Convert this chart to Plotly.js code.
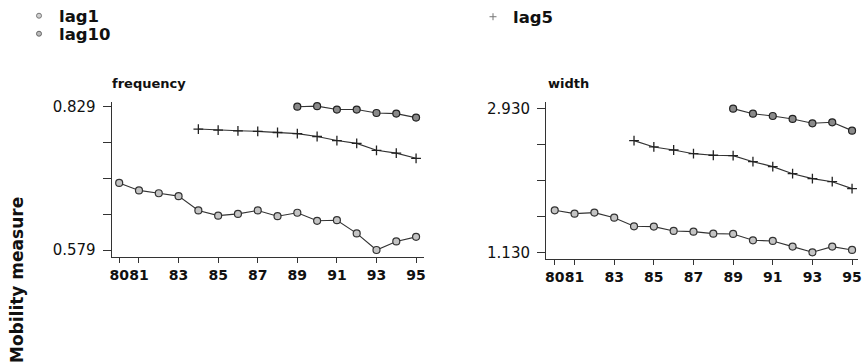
<!DOCTYPE html>
<html>
<head>
<meta charset="utf-8">
<script src="https://cdn.plot.ly/plotly-3.0.1.min.js"></script>
<style>html,body{margin:0;padding:0;background:#fff;}#chart{width:863px;height:362px;}</style>
</head>
<body>
<div id="chart"></div>
<script>
// ---- data ----
const yearsLag1 = [80,81,82,83,84,85,86,87,88,89,90,91,92,93,94,95];
const yearsLag5 = [84,85,86,87,88,89,90,91,92,93,94,95];
const yearsLag10 = [89,90,91,92,93,94,95];

const freqLag1 = [0.696,0.683,0.678,0.673,0.648,0.639,0.642,0.648,0.638,0.644,0.630,0.631,0.608,0.579,0.594,0.602];
const freqLag5 = [0.790,0.788,0.787,0.786,0.784,0.782,0.777,0.770,0.765,0.753,0.748,0.739];
const freqLag10 = [0.829,0.830,0.824,0.824,0.818,0.817,0.810];

const widthLag1 = [1.655,1.613,1.626,1.563,1.455,1.451,1.397,1.388,1.363,1.359,1.280,1.272,1.201,1.130,1.201,1.159];
const widthLag5 = [2.526,2.447,2.409,2.363,2.343,2.338,2.263,2.201,2.113,2.051,2.013,1.926];
const widthLag10 = [2.926,2.863,2.834,2.797,2.743,2.755,2.651];

const xTickVals = [80,81,83,85,87,89,91,93,95];
const xTickText = ['80','81','83','85','87','89','91','93','95'];
const freqTickVals = [0.579,0.6415,0.704,0.7665,0.829];
const freqTickText = ['0.579','','','','0.829'];
const widthTickVals = [1.130,1.580,2.030,2.480,2.930];
const widthTickText = ['1.130','','','','2.930'];

const panelTitles = ['frequency','width'];
const yTitle = 'Mobility measure';

// ---- styles ----
const lineCol = '#333';
const markerStyles = {
  lag1: {symbol:'circle', size:7, color:'#c4c4c4', line:{color:'#333', width:1.2}},
  lag5: {symbol:'cross-thin', size:7, color:'#222', line:{color:'#222', width:1.3}},
  lag10:{symbol:'circle', size:7, color:'#8a8a8a', line:{color:'#222', width:1.2}}
};
const legendMarkers = {
  lag1: {symbol:'circle', size:5, color:'#d0d0d0', line:{color:'#777', width:1}},
  lag5: {symbol:'cross-thin', size:5, color:'#777', line:{color:'#777', width:1}},
  lag10:{symbol:'circle', size:5, color:'#bbb', line:{color:'#666', width:1}}
};

function tr(x, y, name, xa, ya){
  return {x:x, y:y, name:name, xaxis:xa, yaxis:ya, mode:'lines+markers', showlegend:false,
          line:{color:lineCol, width:1.1}, marker:markerStyles[name], hoverinfo:'x+y'};
}
function legendTr(name, legend){
  return {x:[null], y:[null], name:name, mode:'markers', marker:legendMarkers[name],
          showlegend:true, legend:legend, xaxis:'x', yaxis:'y'};
}

const data = [
  tr(yearsLag1, freqLag1, 'lag1', 'x', 'y'),
  tr(yearsLag5, freqLag5, 'lag5', 'x', 'y'),
  tr(yearsLag10, freqLag10, 'lag10', 'x', 'y'),
  tr(yearsLag1, widthLag1, 'lag1', 'x2', 'y2'),
  tr(yearsLag5, widthLag5, 'lag5', 'x2', 'y2'),
  tr(yearsLag10, widthLag10, 'lag10', 'x2', 'y2'),
  legendTr('lag1','legend'),
  legendTr('lag5','legend2'),
  legendTr('lag10','legend3')
];

const font = 'DejaVu Sans, Verdana, sans-serif';
const xTickFont = {family:font, size:14, color:'#111', weight:'bold'};
const yTickFont = {family:font, size:15, color:'#111'};
const legFont = {family:font, size:16.5, color:'#111', weight:'bold'};

function xAxis(domain, range){
  return {domain:domain, range:range, showgrid:false, zeroline:false, showline:true,
    linecolor:'#333', linewidth:1, ticks:'outside', ticklen:5, tickcolor:'#333',
    tickvals:xTickVals, ticktext:xTickText, tickangle:0, tickfont:xTickFont, fixedrange:true};
}
function yAxis(domain, range, anchor, tv, tt){
  return {domain:domain, range:range, anchor:anchor, showgrid:false, zeroline:false, showline:true,
    linecolor:'#333', linewidth:1, ticks:'outside', ticklen:8, tickcolor:'#333', ticklabelstandoff:4,
    tickvals:tv, ticktext:tt, tickfont:yTickFont, fixedrange:true};
}
function leg(xpx, ypx){
  return {x:xpx/863, y:1-ypx/362, xanchor:'left', yanchor:'middle', bgcolor:'rgba(0,0,0,0)',
    font:legFont, itemwidth:30, borderwidth:0};
}

const layout = {
  width:863, height:362,
  margin:{l:0, r:0, t:0, b:0, autoexpand:false},
  paper_bgcolor:'#fff', plot_bgcolor:'#fff',
  font:{family:font, color:'#111'},
  xaxis: Object.assign(xAxis([0.1294,0.4913],[79.62,95.4]), {anchor:'y'}),
  yaxis: yAxis([0.29,0.719],[0.5668,0.8377],'x',freqTickVals,freqTickText),
  xaxis2: Object.assign(xAxis([0.6327,0.9942],[79.56,95.3]), {anchor:'y2'}),
  yaxis2: yAxis([0.2845,0.719],[1.046,3.0125],'x2',widthTickVals,widthTickText),
  legend: leg(19, 16),
  legend2: leg(473, 17),
  legend3: leg(19, 34),
  annotations:[
    {text:panelTitles[0], xref:'paper', yref:'paper', x:110/863, y:1-84/362, xanchor:'left', yanchor:'middle',
     showarrow:false, font:{family:font, size:13, color:'#111', weight:'bold'}},
    {text:panelTitles[1], xref:'paper', yref:'paper', x:546/863, y:1-84/362, xanchor:'left', yanchor:'middle',
     showarrow:false, font:{family:font, size:13, color:'#111', weight:'bold'}},
    {text:yTitle, xref:'paper', yref:'paper', x:17/863, y:1-280/362, xanchor:'center', yanchor:'middle',
     textangle:-90, showarrow:false, font:{family:font, size:17, color:'#111', weight:'bold'}}
  ]
};

Plotly.newPlot('chart', data, layout, {displayModeBar:false, staticPlot:true});
</script>
</body>
</html>
